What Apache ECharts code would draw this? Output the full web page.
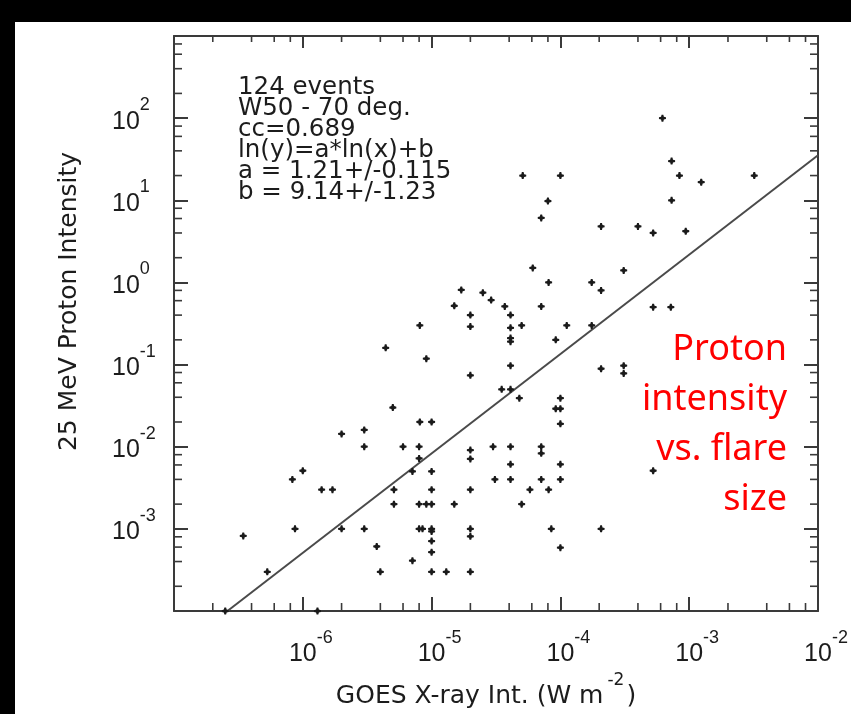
<!DOCTYPE html>
<html><head><meta charset="utf-8">
<script src="https://cdn.jsdelivr.net/npm/echarts@6/dist/echarts.min.js"></script>
<style>html,body{margin:0;padding:0;background:#000;}#c{width:851px;height:714px;}</style>
</head><body><div id="c"></div>
<script>
// ---- data ----
const flareX = [
 1.7e-5,2.5e-5,2.9e-5,1.5e-5,2.0e-5,2.0e-5,8.1e-6,4.4e-6,9.1e-6,2.0e-5,
 5.0e-6,8.1e-6,1.0e-5,3.0e-6,2.0e-6,3.0e-6,6.0e-6,8.0e-6,8.0e-6,3.0e-5,
 2.0e-5,2.0e-5,1.0e-6,8.3e-7,7.1e-6,1.0e-5,3.1e-5,1.4e-6,1.7e-6,5.1e-6,
 1.0e-5,2.0e-5,5.1e-6,8.0e-6,9.1e-6,1.0e-5,1.5e-5,8.7e-7,2.0e-6,3.0e-6,
 8.0e-6,8.5e-6,1.0e-5,1.0e-5,2.0e-5,2.0e-5,3.45e-7,3.75e-6,1.0e-5,1.0e-5,
 7.1e-6,5.3e-7,4.0e-6,1.0e-5,1.3e-5,2.0e-5,2.5e-7,1.3e-6,
 6.2e-4,7.3e-4,8.4e-4,5.1e-5,1.0e-4,3.2e-3,1.24e-3,8.0e-5,7.3e-4,7.1e-5,
 2.07e-4,4.0e-4,5.25e-4,9.4e-4,6.1e-5,8.1e-5,1.75e-4,3.1e-4,2.07e-4,3.7e-5,
 7.1e-5,5.25e-4,7.2e-4,4.1e-5,4.1e-5,5.0e-5,1.12e-4,1.75e-4,4.1e-5,4.1e-5,
 9.2e-5,4.1e-5,2.07e-4,3.1e-4,3.1e-4,3.5e-5,4.1e-5,4.8e-5,1.0e-4,9.2e-5,
 1.0e-4,1.0e-4,4.1e-5,7.1e-5,7.1e-5,4.1e-5,1.0e-4,5.25e-4,4.1e-5,7.1e-5,
 1.0e-4,5.8e-5,8.1e-5,5.0e-5,8.5e-5,2.07e-4,1.0e-4
];
const protonY = [
 0.81,0.75,0.61,0.52,0.40,0.29,0.30,0.16,0.118,0.074,
 0.030,0.020,0.020,0.016,0.0143,0.010,0.010,0.010,0.0072,0.010,
 0.0091,0.0071,0.0051,0.0040,0.0050,0.0050,0.0040,0.0030,0.0030,0.0030,
 0.0030,0.0030,0.0020,0.0020,0.0020,0.0020,0.0020,0.0010,0.0010,0.0010,
 0.0010,0.0010,0.0010,0.00093,0.0010,0.00081,0.00082,0.00061,0.00071,0.00052,
 0.00041,0.00030,0.00030,0.00030,0.00030,0.00030,0.0001,0.0001,
 100,30,20,20,20,20,16.6,9.8,10,6.1,
 4.8,4.8,4.0,4.2,1.5,1.0,1.0,1.4,0.80,0.51,
 0.51,0.50,0.50,0.40,0.28,0.30,0.30,0.30,0.21,0.19,
 0.20,0.097,0.089,0.097,0.078,0.050,0.050,0.039,0.039,0.029,
 0.029,0.019,0.010,0.010,0.0083,0.0061,0.0061,0.0051,0.0040,0.0040,
 0.0040,0.0030,0.0030,0.0020,0.0010,0.0010,0.00059
];
const fitX = [2.6e-7, 1e-2];
const fitY = [1e-4, 35.4];
const xRange = [1e-7, 1e-2];
const yRange = [1e-4, 1e3];
const xLabelExponents = [-6, -5, -4, -3, -2];
const yLabelExponents = [-3, -2, -1, 0, 1, 2];
const xDecades = [-7, -6, -5, -4, -3];
const yDecades = [-4, -3, -2, -1, 0, 1, 2];
const minorMultipliers = [2, 4, 6, 8];
const annotationLines = ['124 events', 'W50 - 70 deg.', 'cc=0.689', 'ln(y)=a*ln(x)+b', 'a = 1.21+/-0.115', 'b = 9.14+/-1.23'];
const noteLines = ['Proton', 'intensity', 'vs. flare', 'size'];
const xTitle = ['GOES X-ray Int. (W m', '-2', ')'];
const yTitle = '25 MeV Proton Intensity';

// ---- build ----
const AX = '#3a3a3a';
const TXT = '#1c1c1c';
const scatterData = flareX.map((x, i) => [x, protonY[i]]);
const fitData = fitX.map((x, i) => [x, fitY[i]]);
const xMinor = [], yMinor = [];
xDecades.forEach(d => minorMultipliers.forEach(m => xMinor.push([m * Math.pow(10, d), 1])));
yDecades.forEach(d => minorMultipliers.forEach(m => yMinor.push([1e-5, m * Math.pow(10, d)])));

const rich = {
  b: {fontFamily: 'Liberation Sans', fontSize: 25, color: TXT, lineHeight: 38, verticalAlign: 'bottom'},
  s: {fontFamily: 'Liberation Sans', fontSize: 18, color: TXT, lineHeight: 18, verticalAlign: 'top'}
};
function fmt(list) {
  return function (v) {
    const e = Math.round(Math.log10(v));
    return list.indexOf(e) >= 0 ? '{b|10}{s|' + e + '}' : '';
  };
}
function axisBase(extra) {
  return Object.assign({
    type: 'log', logBase: 10,
    axisLine: {show: true, onZero: false, lineStyle: {color: AX, width: 2}},
    axisTick: {show: true, inside: true, length: 14, lineStyle: {color: AX, width: 2}},
    splitLine: {show: false}, minorTick: {show: false}, minorSplitLine: {show: false}
  }, extra);
}

const chart = echarts.init(document.getElementById('c'));
chart.setOption({
  animation: false,
  backgroundColor: '#000',
  graphic: [
    {type: 'rect', left: 15, top: 22, z: -100, silent: true, shape: {width: 836, height: 692}, style: {fill: '#fff'}},
    {type: 'text', x: 238, y: 77, z: 10, style: {text: annotationLines.join('\n'), font: '24.5px "DejaVu Sans"', lineHeight: 21, fill: TXT, verticalAlign: 'top'}},
    {type: 'text', x: 787, y: 325, z: 10, style: {text: noteLines.join('\n'), font: '36px "Noto Sans"', lineHeight: 50, fill: '#ff0000', align: 'right', verticalAlign: 'top'}}
  ],
  grid: {left: 174, right: 33, top: 36, bottom: 103, containLabel: false, outerBoundsMode: 'none'},
  xAxis: [
    axisBase({min: xRange[0], max: xRange[1], position: 'bottom', splitNumber: 5,
      axisLabel: {show: true, margin: 18, padding: [0, 0, 0, 16], formatter: fmt(xLabelExponents), rich: rich, showMinLabel: true, showMaxLabel: true},
      name: '{t|' + xTitle[0] + '}{u|' + xTitle[1] + '}{t|' + xTitle[2] + '}',
      nameLocation: 'middle', nameGap: 55,
      nameTextStyle: {padding: [0, 20, 0, 0], rich: {
        t: {fontFamily: 'DejaVu Sans', fontSize: 25, color: TXT, lineHeight: 37, verticalAlign: 'bottom'},
        u: {fontFamily: 'DejaVu Sans', fontSize: 17, color: TXT, lineHeight: 17, verticalAlign: 'top', padding: [0, 2, 0, 4]}
      }}
    }),
    axisBase({min: xRange[0], max: xRange[1], position: 'top', splitNumber: 5,
      axisTick: {show: true, inside: true, length: 12, lineStyle: {color: AX, width: 2}},
      axisLabel: {show: false}})
  ],
  yAxis: [
    axisBase({min: yRange[0], max: yRange[1], position: 'left', splitNumber: 7,
      axisLabel: {show: true, align: 'left', margin: 62, padding: [0, 0, 6, 0], formatter: fmt(yLabelExponents), rich: rich, showMinLabel: true, showMaxLabel: true},
      name: yTitle, nameLocation: 'middle', nameGap: 92, nameRotate: 90,
      nameTextStyle: {fontFamily: 'DejaVu Sans', fontSize: 25, color: TXT, padding: [0, 0, 0, 44]}
    }),
    axisBase({min: yRange[0], max: yRange[1], position: 'right', splitNumber: 7,
      axisLabel: {show: false}})
  ],
  series: [
    {type: 'custom', xAxisIndex: 0, yAxisIndex: 0, data: xMinor, silent: true, z: 5,
      renderItem: function (params, api) {
        const v = api.value(0);
        const pb = api.coord([v, yRange[0]]);
        const pt = api.coord([v, yRange[1]]);
        return {type: 'group', children: [
          {type: 'line', shape: {x1: pb[0], y1: pb[1], x2: pb[0], y2: pb[1] - 8}, style: {stroke: AX, lineWidth: 1.6}},
          {type: 'line', shape: {x1: pt[0], y1: pt[1], x2: pt[0], y2: pt[1] + 6}, style: {stroke: AX, lineWidth: 1.6}}
        ]};
      }},
    {type: 'custom', xAxisIndex: 0, yAxisIndex: 0, data: yMinor, silent: true, z: 5,
      renderItem: function (params, api) {
        const v = api.value(1);
        const pl = api.coord([xRange[0], v]);
        const pr = api.coord([xRange[1], v]);
        return {type: 'group', children: [
          {type: 'line', shape: {x1: pl[0], y1: pl[1], x2: pl[0] + 8, y2: pl[1]}, style: {stroke: AX, lineWidth: 1.6}},
          {type: 'line', shape: {x1: pr[0], y1: pr[1], x2: pr[0] - 8, y2: pr[1]}, style: {stroke: AX, lineWidth: 1.6}}
        ]};
      }},
    {type: 'line', xAxisIndex: 0, yAxisIndex: 0, data: fitData, showSymbol: false, symbol: 'none', silent: true,
      lineStyle: {color: '#4a4a4a', width: 2}, z: 3},
    {type: 'scatter', xAxisIndex: 0, yAxisIndex: 0, data: scatterData, clip: false, silent: true,
      symbol: 'path://M3,0H5L5.6,2.4L8,3V5L5.6,5.6L5,8H3L2.4,5.6L0,5V3L2.4,2.4Z', symbolSize: 7,
      itemStyle: {color: '#1a1a1a', opacity: 1}, z: 4}
  ]
});
</script></body></html>
